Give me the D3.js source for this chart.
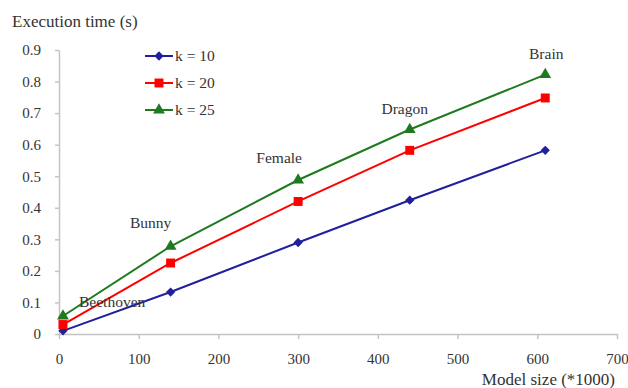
<!DOCTYPE html>
<html>
<head>
<meta charset="utf-8">
<script src="https://cdn.jsdelivr.net/npm/d3@7"></script>
<style>
  body { margin: 0; background: #fff; }
</style>
</head>
<body>
<svg width="628" height="388"></svg>
<script>
// ---- Dados
const modelSizes = [5, 140, 300, 440, 610];
const modelNames = ['Beethoven', 'Bunny', 'Female', 'Dragon', 'Brain'];
const k10 = [0.01, 0.133, 0.29, 0.424, 0.582];
const k20 = [0.03, 0.225, 0.42, 0.582, 0.748];
const k25 = [0.057, 0.278, 0.488, 0.648, 0.822];
const seriesNames = ['k = 10', 'k = 20', 'k = 25'];
const xTicks = [0, 100, 200, 300, 400, 500, 600, 700];
const yTicks = [0, 0.1, 0.2, 0.3, 0.4, 0.5, 0.6, 0.7, 0.8, 0.9];

const FONT = 'Liberation Serif';
const TEXT_COLOR = '#333';
const AXIS_COLOR = '#c4c4c4';

const margens = { left: 59, right: 11, top: 50, bottom: 54 };
const svg = d3.select('svg');
const width = 628 - margens.left - margens.right;
const height = 388 - margens.top - margens.bottom;

// ---- Escalas
const mapX = d3.scaleLinear().domain([0, 700]).range([0, width]);
const mapY = d3.scaleLinear().domain([0, 0.9]).range([height, 0]);

const g = svg.append('g').attr('transform', `translate(${margens.left}, ${margens.top})`);

const styleAxis = a => {
    a.attr('font-family', FONT).attr('font-size', 15);
    a.selectAll('path, line').attr('stroke', AXIS_COLOR).attr('stroke-width', 1.5);
    a.selectAll('text').attr('fill', TEXT_COLOR);
};

// ---- Eixos
g.append('g')
    .attr('transform', `translate(0, ${height})`)
    .call(d3.axisBottom(mapX).tickValues(xTicks).tickSize(5).tickSizeOuter(0).tickPadding(14))
    .call(styleAxis);

g.append('g')
    .call(d3.axisLeft(mapY).tickValues(yTicks).tickSize(4).tickSizeOuter(0).tickPadding(14)
        .tickFormat(d => d === 0 ? '0' : d3.format('.1f')(d)))
    .call(styleAxis);

svg.append('text')
    .attr('x', 12).attr('y', 27)
    .attr('font-family', FONT)
    .attr('font-size', 17).attr('fill', TEXT_COLOR)
    .text('Execution time (s)');

svg.append('text')
    .attr('x', 615).attr('y', 385)
    .attr('text-anchor', 'end')
    .attr('font-family', FONT)
    .attr('font-size', 17).attr('fill', TEXT_COLOR)
    .text('Model size (*1000)');

// ---- Séries
const series = [
    { name: seriesNames[0], values: k10, color: '#20209c', symbol: d3.symbolDiamond2, size: 55 },
    { name: seriesNames[1], values: k20, color: '#ff0000', symbol: d3.symbolSquare, size: 80 },
    { name: seriesNames[2], values: k25, color: '#1e7a1e', symbol: d3.symbolTriangle, size: 60 }
];

const line = d3.line()
    .x((d, i) => mapX(modelSizes[i]))
    .y(d => mapY(d));

series.forEach(s => {
    g.append('path')
        .datum(s.values)
        .attr('d', line)
        .attr('fill', 'none')
        .attr('stroke', s.color)
        .attr('stroke-width', 2);

    g.selectAll(null)
        .data(s.values)
        .join('path')
        .attr('transform', (d, i) => `translate(${mapX(modelSizes[i])}, ${mapY(d)})`)
        .attr('d', d3.symbol(s.symbol, s.size))
        .attr('fill', s.color);
});

// ---- Rótulos dos modelos (acima da série k = 25)
const labelOffsets = [[16, 0, 'start'], [-20, -18, 'middle'], [-19, -17, 'middle'], [-5, -16, 'middle'], [1, -16, 'middle']];
g.selectAll('.model-label')
    .data(modelNames)
    .join('text')
    .attr('class', 'model-label')
    .attr('x', (d, i) => mapX(modelSizes[i]) + labelOffsets[i][0])
    .attr('y', (d, i) => i === 0 ? mapY(k10[0]) - 24 : mapY(k25[i]) + labelOffsets[i][1])
    .attr('text-anchor', (d, i) => labelOffsets[i][2])
    .attr('font-family', FONT)
    .attr('font-size', 15.5)
    .attr('fill', TEXT_COLOR)
    .text(d => d);

// ---- Legenda
const legend = svg.append('g').attr('transform', 'translate(145, 56)');
series.forEach((s, i) => {
    const row = legend.append('g').attr('transform', `translate(0, ${i * 27})`);
    row.append('line')
        .attr('x1', 0).attr('x2', 28)
        .attr('stroke', s.color).attr('stroke-width', 2);
    row.append('path')
        .attr('transform', 'translate(14, 0)')
        .attr('d', d3.symbol(s.symbol, s.size))
        .attr('fill', s.color);
    row.append('text')
        .attr('x', 30).attr('dy', '0.35em')
        .attr('font-family', FONT)
        .attr('font-size', 15.5)
        .attr('fill', TEXT_COLOR)
        .text(s.name);
});
</script>
</body>
</html>
